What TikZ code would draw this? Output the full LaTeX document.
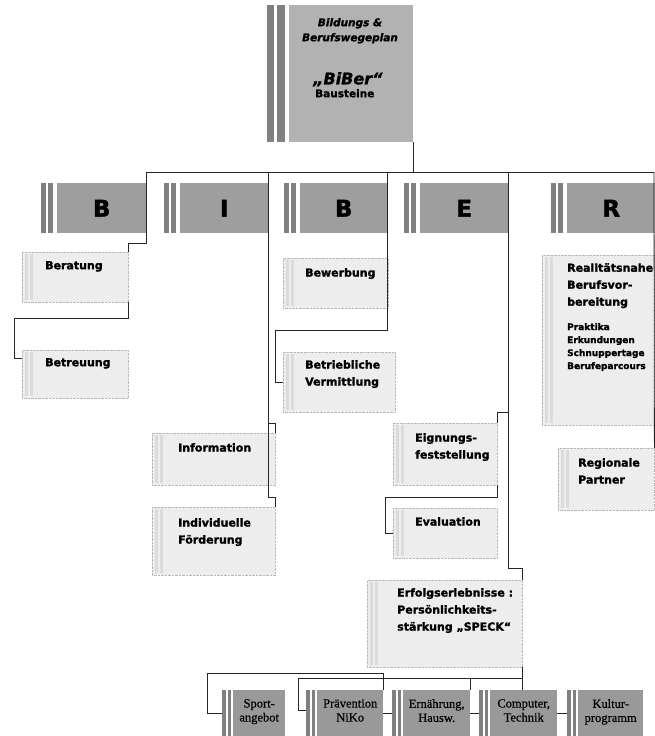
\documentclass[tikz,border=0pt]{standalone}
\usepackage{fontspec}
\setmainfont{DejaVu Sans}[BoldFeatures={FakeBold=1.6},BoldItalicFeatures={FakeBold=1.6}]
\newfontfamily\bottomserif{Liberation Serif}[FakeBold=0.6]
\usetikzlibrary{calc}
\tikzset{
  hdr/.style={fill=black!38, inner sep=0pt, anchor=north west, font=\bfseries\fontsize{23}{23}\selectfont},
  hstripe/.style={fill=black!50},
  ttl/.style={fill=black!30, inner sep=0pt, anchor=north west},
  lbox/.style={fill=black!7, draw=black!28, densely dotted, inner sep=0pt, anchor=north west},
  lstripe/.style={fill=black!14},
  bbox/.style={fill=black!40, inner sep=0pt, anchor=north west},
  conn/.style={draw=black!85, line width=0.8pt},
  ltxt/.style={anchor=north west, inner sep=0pt, align=left, font=\bfseries\fontsize{11}{17}\selectfont},
  stxt/.style={anchor=north west, inner sep=0pt, align=left, font=\bfseries\fontsize{9}{13}\selectfont},
  btxt/.style={anchor=north, inner sep=0pt, align=center, font=\bottomserif\fontsize{12.5}{14}\selectfont},
}
\newcommand\hdrbox[6]{%
  \fill[hstripe] (#2,#3) rectangle ++(5,#5);
  \fill[hstripe] (#2+7,#3) rectangle ++(5,#5);
  \node[hdr, minimum width=#4pt, minimum height=#5pt] (#1) at (#2+16,#3) {#6};}
\newcommand\litebox[5]{%
  \node[lbox, minimum width=#4pt, minimum height=#5pt] (#1) at (#2,#3) {};
  \fill[lstripe] (#2+3,#3+2) rectangle ++(3,#5-4);
  \fill[lstripe] (#2+8,#3+2) rectangle ++(3,#5-4);}
\newcommand\botbox[4]{%
  \fill[hstripe] (#2,690) rectangle ++(4,46);
  \fill[hstripe] (#2+6,690) rectangle ++(3,46);
  \node[bbox, minimum width=#3pt, minimum height=46pt] (#1) at (#2+11,690) {};
  \node[btxt] (#1t) at ($(#1.north)+(0,9)$) {#4};}
\begin{document}
\begin{tikzpicture}[x=1pt,y=-1pt]
\useasboundingbox (0,0) rectangle (655,736);
\fill[white] (0,0) rectangle (655,736);

% title
\fill[hstripe] (267,5) rectangle (274,142);
\fill[hstripe] (277,5) rectangle (285,142);
\node[ttl, minimum width=124pt, minimum height=137pt] (tit) at (289,5) {};
\node[anchor=north, inner sep=0pt, align=center, font=\bfseries\itshape\fontsize{10.5}{15}\selectfont] (tit1) at (350,18) {Bildungs \&\\Berufswegeplan};
\node[anchor=north west, inner sep=0pt, font=\bfseries\itshape\fontsize{16}{16}\selectfont] (tit2) at (313,72) {„BiBer“};
\node[anchor=north west, inner sep=0pt, font=\bfseries\fontsize{10.5}{12}\selectfont] (tit3) at (315,89) {Bausteine};

% headers
\hdrbox{hB}{41}{183}{89}{50}{B}
\hdrbox{hI}{164}{183}{88}{50}{I}
\hdrbox{hBb}{284}{183}{87}{50}{B}
\hdrbox{hE}{404}{183}{88}{50}{E}
\hdrbox{hR}{551}{183}{88}{50}{R}

% light boxes
\litebox{ber}{22}{252}{106}{50}
\litebox{bet}{22}{350}{106}{48}
\litebox{bew}{283}{258}{105}{50}
\litebox{ver}{283}{352}{112}{60}
\litebox{inf}{152}{433}{123}{52}
\litebox{foe}{152}{507}{123}{68}
\litebox{eig}{393}{423}{104}{62}
\litebox{eva}{393}{508}{104}{50}
\litebox{rea}{542}{255}{112}{170}
\litebox{reg}{558}{448}{96}{62}
\litebox{erf}{367}{580}{155}{87}

% texts
\node[ltxt] (tber) at (45,261) {Beratung};
\node[ltxt] (tbet) at (45,358) {Betreuung};
\node[ltxt] (tbew) at (305,268) {Bewerbung};
\node[ltxt] (tver) at (305,360) {Betriebliche\\Vermittlung};
\node[ltxt] (trea) at (567,263) {Realitätsnahe\\Berufsvor-\\bereitung};
\node[stxt] (tlist) at (567,323) {Praktika\\Erkundungen\\Schnuppertage\\Berufeparcours};
\node[ltxt] (tinf) at (178,443) {Information};
\node[ltxt] (tfoe) at (178,518) {Individuelle\\Förderung};
\node[ltxt] (teig) at (415,433) {Eignungs-\\feststellung};
\node[ltxt] (teva) at (415,517) {Evaluation};
\node[ltxt] (treg) at (578,458) {Regionale\\Partner};
\node[ltxt] (terf) at (397,588) {Erfolgserlebnisse :\\Persönlichkeits-\\stärkung „SPECK“};

% bottom row
\botbox{spo}{222}{52}{Sport-\\angebot}
\botbox{pra}{306}{66}{Prävention\\NiKo}
\botbox{ern}{392}{67}{Ernährung,\\Hausw.}
\botbox{com}{479}{67}{Computer,\\Technik}
\botbox{kul}{567}{65}{Kultur-\\programm}

% connector coordinates
\coordinate (busL) at (146,172);
\coordinate (busR) at (654,172);
\coordinate (bI) at (268,172);
\coordinate (bB) at (387,172);
\coordinate (bE) at (508,172);
\coordinate (k1) at (146,243);
\coordinate (k2) at (14,318);
\coordinate (k3) at (268,497);
\coordinate (k4) at (268,423);
\coordinate (k5) at (387,330);
\coordinate (k6) at (275,330);
\coordinate (k7) at (508,568);
\coordinate (k8) at (508,412);
\coordinate (k9) at (385,497);
\coordinate (k10) at (522,678);
\coordinate (k11) at (298,678);
\coordinate (k12) at (207,673);

% connectors
\draw[conn] (tit.south east) -- (tit.south east |- busR);
\draw[conn] (busL) -- (busR);
\draw[conn] (busL) -- (k1) -| (ber.north east);
\draw[conn] (ber.south east) |- (k2) |- ($(bet.north west)+(0,8)$);
\draw[conn] (bI) -- (k3) -| (foe.north east);
\draw[conn] (k4) -| (inf.north east);
\draw[conn] (bB) -- (k5) -- (k6) |- ($(ver.north west)+(0,30)$);
\draw[conn] (bE) -- (k7) -| (erf.north east);
\draw[conn] (k8) -| (eig.north east);
\draw[conn] (eig.south east) |- (k9) |- ($(eva.north west)+(0,25)$);
\draw[conn] (busR) -- (reg.north east);
\draw[conn] (erf.south east) -- (erf.south east |- com.north);
\draw[conn] (k10) -- (k11) |- ($(pra.west)+(-11,-3)$);
\draw[conn] (pra.north east) |- (k12) |- ($(spo.west)+(-11,0)$);
\draw[conn] (ern.north east) -- (ern.north east |- k10);
\draw[conn] (pra.east) -- ($(ern.west)+(-11,0)$);
\draw[conn] (ern.east) -- ($(com.west)+(-11,0)$);
\draw[conn] (com.east) -- ($(kul.west)+(-11,0)$);
\end{tikzpicture}
\end{document}
